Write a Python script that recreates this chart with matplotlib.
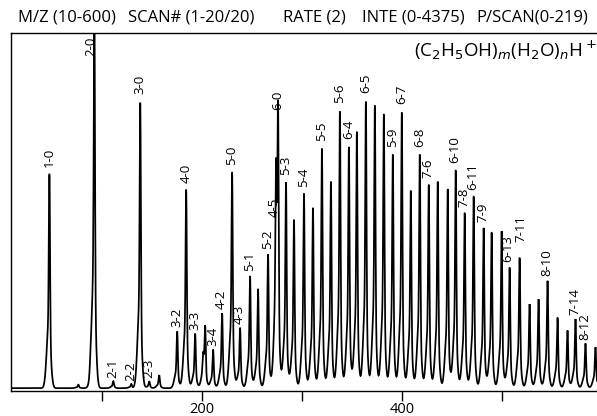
import numpy as np
import matplotlib
matplotlib.use("Agg")
import matplotlib.pyplot as plt

plt.rcParams['font.family'] = ['Open Sans', 'DejaVu Sans']

# ---- data (m/z, relative intensity %, label) ----
peak_mz = [47, 76, 88, 92, 111, 129, 138, 147, 157, 175, 184, 193, 201, 203, 211,
           220, 230, 238, 248, 256, 266, 274, 276, 284, 292, 302, 311, 320, 329,
           338, 347, 355, 364, 373, 382, 391, 400, 409, 418, 427, 436, 446, 454,
           463, 472, 482, 490, 500, 508, 518, 528, 537, 546, 556, 566, 574, 584, 594]
peak_int = [61.5, 1.0, 1.5, 110, 2.0, 1.2, 82.0, 2.0, 3.7, 16.3, 57.0, 15.7, 6.2, 17.4, 11.0,
            21.6, 62.0, 17.4, 32.3, 28.4, 38.5, 47.5, 77.5, 59.3, 48.3, 55.9, 51.7, 68.8, 59.3,
            79.5, 69.4, 73.6, 82.3, 81.2, 78.7, 67.1, 79.2, 56.7, 67.1, 58.4, 59.3, 57.3, 62.6,
            50.3, 55.1, 46.1, 44.7, 45.2, 34.6, 37.4, 24.2, 25.6, 30.9, 20.2, 16.6, 19.9, 12.9, 11.8]
peak_label = ['1-0', '', '', '2-0', '2-1', '2-2', '3-0', '2-3', '', '3-2', '4-0', '3-3', '', '', '3-4',
              '4-2', '5-0', '4-3', '5-1', '', '5-2', '4-5', '6-0', '5-3', '', '5-4', '', '5-5', '',
              '5-6', '6-4', '', '6-5', '', '', '5-9', '6-7', '', '6-8', '7-6', '', '', '6-10',
              '7-8', '6-11', '7-9', '', '', '6-13', '7-11', '', '', '8-10', '', '', '7-14', '8-12', '']

header_items = ['M/Z (10-600)', 'SCAN# (1-20/20)', 'RATE (2)', 'INTE (0-4375)', 'P/SCAN(0-219)']
tick_positions = [100, 200, 300, 400, 500]
tick_labels = ['', '200', '', '400', '']

# label nudges (data units: dx in m/z, dy in %)
label_nudge = {'7-11': (1.5, 3.0), '6-13': (-1.0, 0.0), '4-5': (-1.5, 0.0)}

W, H = 597, 416
fig = plt.figure(figsize=(W / 100, H / 100), dpi=100)
ax = fig.add_axes([11 / W, (H - 391) / H, (W - 11) / W, (391 - 33) / H])

# spectrum trace built from the peak list (narrow spike on a broader base)
x = np.arange(9.5, 596, 0.05)
y = np.zeros_like(x)
for mz, it in zip(peak_mz, peak_int):
    y += it * (0.72 * np.exp(-0.5 * ((x - mz) / 0.6) ** 2)
               + 0.28 * np.exp(-0.5 * ((x - mz + 0.8) / 2.0) ** 2))
ax.plot(x, y, color='black', lw=1.25, solid_joinstyle='miter')

ax.set_xlim(8.5, 595.5)
ax.set_ylim(-0.8, 100)

for mz, it, lab in zip(peak_mz, peak_int, peak_label):
    if not lab:
        continue
    dx, dy = label_nudge.get(lab, (0.0, 0.0))
    if it > 100:
        ax.text(mz - 4, 99, lab, rotation=90, ha='center', va='top', fontsize=9.5)
    else:
        ax.text(mz - 0.5 + dx, it + 0.8 + dy, lab, rotation=90, ha='center', va='bottom',
                fontsize=9.5)

ax.set_xticks(tick_positions)
ax.set_xticklabels(tick_labels, fontsize=10.5)
ax.tick_params(axis='x', direction='out', length=7, width=1.0, pad=1)
ax.set_yticks([])
ax.spines['right'].set_visible(False)
for s in ['left', 'top', 'bottom']:
    ax.spines[s].set_linewidth(1.0)

ax.text(0.999, 0.985, r'(C$_2$H$_5$OH)$_m$(H$_2$O)$_n$H$^+$', transform=ax.transAxes,
        ha='right', va='top', fontsize=13.5)

hx = [18, 128, 283, 362, 476]
for xx, t in zip(hx, header_items):
    fig.text(xx / W, 1 - 18 / H, t, ha='left', va='center', fontsize=12)

fig.savefig('out.png', dpi=100)
